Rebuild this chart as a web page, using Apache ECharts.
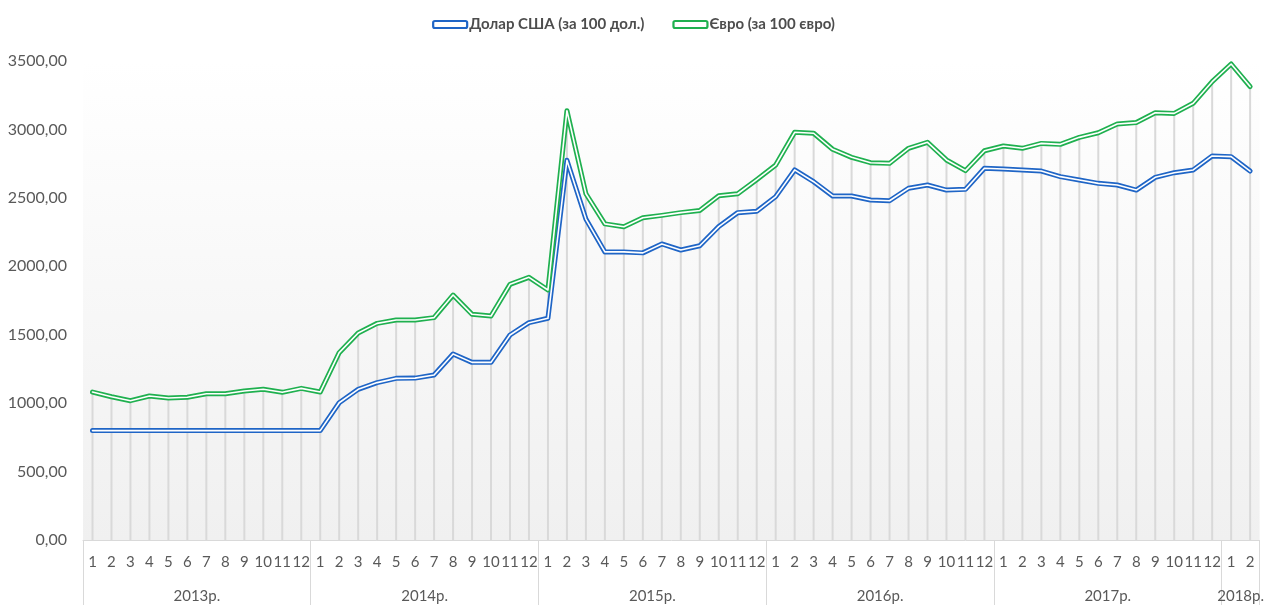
<!DOCTYPE html>
<html>
<head>
<meta charset="utf-8">
<script src="https://cdn.jsdelivr.net/npm/echarts@6/dist/echarts.min.js"></script>
<style>html,body{margin:0;padding:0;background:#fff;}#c{width:1267px;height:605px;}</style>
</head>
<body>
<div id="c"></div>
<script>
const yearLabels = ['2013р.', '2014р.', '2015р.', '2016р.', '2017р.', '2018р.'];
const monthsPerYear = [12, 12, 12, 12, 12, 2];
const monthLabels = [
  '1','2','3','4','5','6','7','8','9','10','11','12',
  '1','2','3','4','5','6','7','8','9','10','11','12',
  '1','2','3','4','5','6','7','8','9','10','11','12',
  '1','2','3','4','5','6','7','8','9','10','11','12',
  '1','2','3','4','5','6','7','8','9','10','11','12',
  '1','2'
];
const usdName = 'Долар США (за 100 дол.)';
const eurName = 'Євро (за 100 євро)';
const usdValues = [
  799.3, 799.3, 799.3, 799.3, 799.3, 799.3, 799.3, 799.3, 799.3, 799.3, 799.3, 799.3,
  799.3, 1003, 1101, 1150, 1181, 1183, 1206, 1359, 1298, 1298, 1498, 1588,
  1620, 2775, 2345, 2105, 2105, 2098, 2163, 2119, 2150, 2290, 2392, 2402,
  2509, 2704, 2618, 2514, 2514, 2484, 2479, 2570, 2594, 2557, 2562, 2716,
  2711, 2704, 2696, 2655, 2630, 2606, 2594, 2557, 2650, 2684, 2704, 2806,
  2801, 2696
];
const eurValues = [
  1081, 1047, 1018, 1052, 1038, 1043, 1069, 1069, 1089, 1101, 1079, 1108,
  1081, 1369, 1513, 1583, 1608, 1608, 1625, 1790, 1649, 1637, 1868, 1919,
  1827, 3137, 2530, 2310, 2289, 2355, 2372, 2392, 2408, 2515, 2530, 2633,
  2740, 2979, 2972, 2855, 2796, 2757, 2752, 2862, 2906, 2777, 2699, 2844,
  2879, 2862, 2898, 2891, 2942, 2976, 3040, 3050, 3122, 3117, 3191, 3349,
  3478, 3313
];
const yTicks = { min: 0, max: 3500, interval: 500 };

// group boundaries and centers for the year level of the axis
const bounds = [0];
monthsPerYear.forEach(n => bounds.push(bounds[bounds.length - 1] + n));
const centers = monthsPerYear.map((n, i) => bounds[i] + n / 2);
const dropValues = usdValues.map((v, i) => Math.max(v, eurValues[i]));

const FONT = 'Lato';
const BLUE = '#1f65c6';
const GREEN = '#1fb04f';
const TXT = '#595959';

const chart = echarts.init(document.getElementById('c'), null, { renderer: 'canvas' });
chart.setOption({
  animation: false,
  backgroundColor: '#ffffff',
  textStyle: { fontFamily: FONT },
  legend: {
    top: 12,
    left: 'center',
    itemWidth: 34,
    itemHeight: 7,
    itemGap: 28,
    icon: 'roundRect',
    textStyle: { color: '#4d4d4d', fontSize: 15, fontWeight: 'bold', fontFamily: FONT, padding: [0, 0, 0, -3] },
    data: [
      { name: usdName, itemStyle: { color: '#ffffff', borderColor: BLUE, borderWidth: 2.2 } },
      { name: eurName, itemStyle: { color: '#ffffff', borderColor: GREEN, borderWidth: 2.2 } }
    ]
  },
  grid: {
    left: 83, right: 4, top: 61, bottom: 65,
    show: true,
    borderWidth: 0,
    backgroundColor: new echarts.graphic.LinearGradient(0, 0, 0, 1, [
      { offset: 0, color: '#ffffff' },
      { offset: 1, color: '#f0f0f0' }
    ])
  },
  xAxis: [
    {
      type: 'category',
      data: monthLabels,
      boundaryGap: true,
      axisLine: { show: true, lineStyle: { color: '#d9d9d9', width: 1 } },
      axisTick: { show: false },
      axisLabel: { interval: 0, color: TXT, fontSize: 15, margin: 15, fontFamily: FONT },
      splitLine: { show: false }
    },
    {
      type: 'value',
      position: 'bottom',
      min: 0,
      max: bounds[bounds.length - 1],
      axisLine: { show: false },
      axisTick: {
        show: true,
        length: 66,
        customValues: bounds,
        lineStyle: { color: '#d9d9d9', width: 1 }
      },
      axisLabel: {
        show: true,
        customValues: centers,
        margin: 49,
        color: TXT,
        fontSize: 15,
        fontFamily: FONT,
        formatter: function (v) {
          const i = centers.indexOf(v);
          return i >= 0 ? yearLabels[i] : '';
        }
      },
      splitLine: { show: false }
    }
  ],
  yAxis: {
    type: 'value',
    min: yTicks.min,
    max: yTicks.max,
    interval: yTicks.interval,
    axisLine: { show: false },
    axisTick: { show: false },
    splitLine: { show: false },
    axisLabel: {
      color: TXT, fontSize: 16, margin: 16, fontFamily: FONT,
      formatter: v => v.toFixed(2).replace('.', ',')
    }
  },
  series: [
    {
      name: 'drop', type: 'bar', data: dropValues, barWidth: 2, silent: true, z: 1,
      itemStyle: { color: '#d9d9d9' }
    },
    {
      name: usdName, type: 'line', data: usdValues, symbol: 'none', z: 3,
      lineStyle: { color: BLUE, width: 5, cap: 'round', join: 'round' },
      itemStyle: { color: BLUE }
    },
    {
      name: 'usd-inner', type: 'line', data: usdValues, symbol: 'none', z: 4, silent: true,
      lineStyle: { color: '#ffffff', width: 1.6, cap: 'round', join: 'round' }
    },
    {
      name: eurName, type: 'line', data: eurValues, symbol: 'none', z: 3,
      lineStyle: { color: GREEN, width: 5, cap: 'round', join: 'round' },
      itemStyle: { color: GREEN }
    },
    {
      name: 'eur-inner', type: 'line', data: eurValues, symbol: 'none', z: 4, silent: true,
      lineStyle: { color: '#ffffff', width: 1.6, cap: 'round', join: 'round' }
    }
  ]
});
</script>
</body>
</html>
